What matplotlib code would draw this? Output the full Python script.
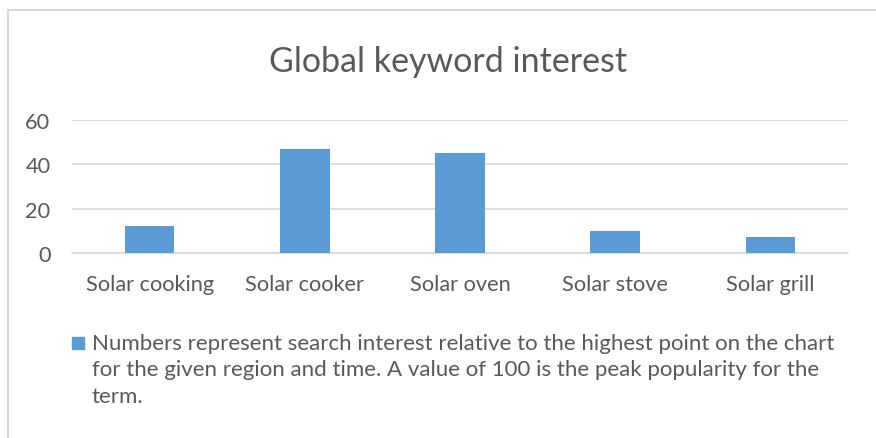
import matplotlib
matplotlib.use("Agg")
import matplotlib.pyplot as plt
from matplotlib.lines import Line2D
from matplotlib.patches import Rectangle

categories = ["Solar cooking", "Solar cooker", "Solar oven", "Solar stove", "Solar grill"]
values = [12, 47, 45, 10, 7]
yticks = [0, 20, 40, 60]
title = "Global keyword interest"
legend_lines = [
    "Numbers represent search interest relative to the highest point on the chart",
    "for the given region and time. A value of 100 is the peak popularity for the",
    "term.",
]

plt.rcParams['font.family'] = ['Lato', 'DejaVu Sans']
grey = "#595959"
blue = "#5B9BD5"

W, H = 876, 439
fig = plt.figure(figsize=(W / 100, H / 100), dpi=100)

# chart area border (light grey, left and top only visible)
fig.add_artist(Line2D([8 / W, 8 / W], [0, 1 - 11 / H], color="#d9d9d9", lw=1.5))
fig.add_artist(Line2D([8 / W, 1], [1 - 11 / H, 1 - 11 / H], color="#d9d9d9", lw=1.5))

ax = fig.add_axes([72 / W, 1 - 254 / H, (848 - 72) / W, (254 - 121) / H])
x = range(len(categories))
ax.bar(x, values, width=0.32, color=blue, zorder=3)
ax.set_xlim(-0.5, len(categories) - 0.5)
ax.set_ylim(0, 60)
ax.set_yticks(yticks)
ax.set_xticks(list(x))
ax.set_xticklabels(categories)
ax.yaxis.grid(True, color="#d9d9d9", lw=1.2, zorder=0)
for s in ["top", "right", "left"]:
    ax.spines[s].set_visible(False)
ax.spines["bottom"].set_color("#d9d9d9")
ax.spines["bottom"].set_linewidth(1.2)
ax.tick_params(length=0, labelsize=15.7, colors=grey)
ax.tick_params(axis="x", pad=15)
ax.tick_params(axis="y", pad=15.5)

fig.text(448 / W, 1 - 62 / H, title, ha="center", va="center", fontsize=24.5, color=grey)

# legend: marker square + wrapped text
fig.add_artist(Rectangle((72 / W, 1 - 350 / H), 12 / W, 12 / H, color=blue, transform=fig.transFigure))
for i, line in enumerate(legend_lines):
    fig.text(92 / W, 1 - (344 + 26.5 * i) / H, line, ha="left", va="center", fontsize=16, color=grey)

fig.savefig("out.png", dpi=100)
